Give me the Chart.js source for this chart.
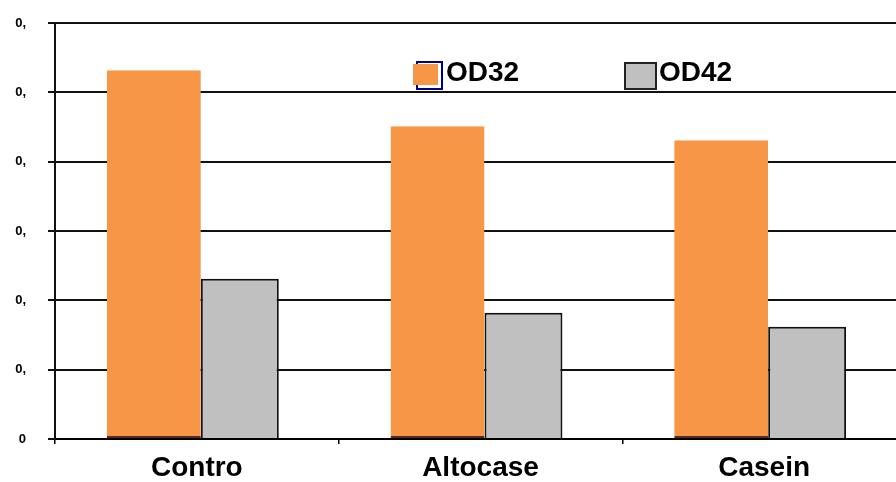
<!DOCTYPE html>
<html>
<head>
<meta charset="utf-8">
<script src="https://cdn.jsdelivr.net/npm/chart.js@4"></script>
<style>
  html, body { margin: 0; padding: 0; background: #fff; overflow: hidden; }
  #wrap { width: 906px; height: 482px; }
</style>
</head>
<body>
<div id="wrap"><canvas id="chart"></canvas></div>
<script>
const categories = ['Contro', 'Altocase', 'Casein'];
const od32 = [0.532, 0.451, 0.431];
const od42 = [0.231, 0.182, 0.162];
const yTickLabels = ['0', '0,', '0,', '0,', '0,', '0,', '0,'];

// legend drawn inside the plot, like the original
const insideLegend = {
  id: 'insideLegend',
  afterDraw(chart) {
    const ctx = chart.ctx;
    const sets = chart.data.datasets;
    ctx.save();
    ctx.font = 'bold 28px "Liberation Sans", Arial, sans-serif';
    ctx.textBaseline = 'alphabetic';
    ctx.fillStyle = '#000';

    // OD32 swatch: navy outline offset behind orange fill
    ctx.strokeStyle = '#000080';
    ctx.lineWidth = 2;
    ctx.strokeRect(417, 62, 25, 27);
    ctx.fillStyle = sets[0].backgroundColor;
    ctx.fillRect(413, 64, 25, 21);
    ctx.fillStyle = '#000';
    ctx.fillText(sets[0].label, 446, 81);

    // OD42 swatch
    ctx.fillStyle = sets[1].backgroundColor;
    ctx.fillRect(625, 63, 31, 26);
    ctx.strokeStyle = '#222';
    ctx.strokeRect(625, 63, 31, 26);
    ctx.fillStyle = '#000';
    ctx.fillText(sets[1].label, 659, 81);
    ctx.restore();
  }
};

new Chart(document.getElementById('chart').getContext('2d'), {
  type: 'bar',
  data: {
    labels: categories,
    datasets: [{
      label: 'OD32',
      data: od32,
      backgroundColor: '#F79646',
      borderColor: '#5a2a2a',
      borderWidth: { top: 0, left: 0, right: 0, bottom: 2 },
      borderSkipped: false,
      categoryPercentage: 0.606,
      barPercentage: 1.093
    }, {
      label: 'OD42',
      data: od42,
      backgroundColor: '#C0C0C0',
      borderColor: '#111',
      borderWidth: 2,
      borderSkipped: 'bottom',
      categoryPercentage: 0.606,
      barPercentage: 0.907
    }]
  },
  options: {
    responsive: true,
    maintainAspectRatio: false,
    animation: false,
    layout: {
      padding: { top: 23, left: 0, right: 0, bottom: 0 }
    },
    plugins: {
      legend: { display: false },
      tooltip: { enabled: false }
    },
    scales: {
      x: {
        afterFit: (scale) => { scale.height = 43; },
        grid: {
          display: true,
          offset: true,
          drawOnChartArea: false,
          tickLength: 5,
          color: '#000',
          lineWidth: 1.5
        },
        border: { display: true, color: '#000', width: 2 },
        ticks: {
          color: '#000',
          padding: 7,
          font: { family: '"Liberation Sans", Arial, sans-serif', size: 28, weight: 'bold' }
        }
      },
      y: {
        min: 0,
        max: 0.6,
        afterFit: (scale) => {
          scale.width = 55;
          scale.paddingTop = 0;
          scale.paddingBottom = 0;
        },
        grid: {
          color: '#111',
          lineWidth: 2,
          tickLength: 7
        },
        border: { display: true, color: '#111', width: 2 },
        ticks: {
          stepSize: 0.1,
          color: '#000',
          padding: 22,
          font: { family: '"Liberation Sans", Arial, sans-serif', size: 13, weight: 'bold' },
          callback: (value, index) => yTickLabels[index]
        }
      }
    }
  },
  plugins: [insideLegend]
});
</script>
</body>
</html>
